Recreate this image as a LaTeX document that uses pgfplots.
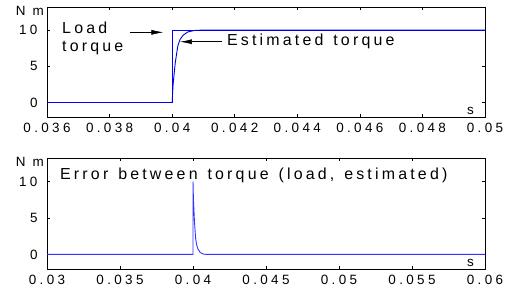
\documentclass[border=0pt]{standalone}
\usepackage{fontspec}
\setmainfont{Liberation Sans}[LetterSpace=20,WordSpace=1.3]
\newfontfamily\tickfont{Liberation Sans}[LetterSpace=25]
\usepackage{pgfplots}
\pgfplotsset{compat=1.18}
\usetikzlibrary{arrows.meta}
\pgfplotsset{
  mystyle/.style={
    scale only axis, width=438bp, height=110bp,
    anchor=south west, clip=false,
    ymin=-2, ymax=13.2,
    ytick={0,5,10},
    tick align=inside,
    major tick length=3bp,
    axis line style={line width=0.9pt},
    every tick/.style={black, line width=0.5pt},
    scaled ticks=false,
    /pgf/number format/assume math mode=true,
    tick label style={font=\tickfont\fontsize{13.5}{15}\selectfont},
    xticklabel style={yshift=-3bp},
    yticklabel style={xshift=-6bp},
  }
}
\begin{document}
\begin{tikzpicture}[x=1bp,y=1bp]
\path[use as bounding box] (0,0) rectangle (505,295);
\begin{axis}[mystyle, at={(47bp,178bp)},
  xmin=0.036, xmax=0.05,
  xtick={0.036,0.038,0.040,0.042,0.044,0.046,0.048,0.050},
  xticklabels={0.036,0.038,0.04,0.042,0.044,0.046,0.048,0.05}]
\addplot[blue, line width=0.9pt] coordinates {(0.036,0) (0.04,0) (0.04,10) (0.05,10)};
\addplot[blue!85!black, line width=0.9pt] coordinates {(0.04,0) (0.04003,2.5) (0.0401,5.5) (0.04018,7.8) (0.04025,8.7) (0.04035,9.3) (0.0405,9.75) (0.0407,9.95) (0.0409,10) (0.05,10)};
\draw[-{Latex[length=12bp,width=5bp]}, line width=0.6pt] (axis cs:0.03865,9.7) -- (axis cs:0.03972,9.7);
\draw[-{Latex[length=12bp,width=5bp]}, line width=0.6pt] (axis cs:0.04159,8.4) -- (axis cs:0.04025,8.4);
\node[anchor=base west, font=\fontsize{16}{18}\selectfont, inner sep=0pt] at (axis cs:0.03648,9.6) {Load};
\node[anchor=base west, font=\fontsize{16}{18}\selectfont, inner sep=0pt] at (axis cs:0.03648,7.1) {torque};
\node[anchor=base west, font=\fontsize{16}{18}\selectfont, inner sep=0pt] at (axis cs:0.04175,7.9) {Estimated torque};
\node[anchor=north east, font=\tickfont\fontsize{13.5}{15}\selectfont, inner sep=0pt] at ([xshift=-3bp,yshift=1bp]rel axis cs:0,1) {N m};
\node[anchor=south east, font=\tickfont\fontsize{13.5}{15}\selectfont, inner sep=0pt] at ([xshift=-11bp,yshift=2bp]rel axis cs:1,0) {s};
\end{axis}
\begin{axis}[mystyle, at={(47bp,26bp)}, height=111bp,
  xmin=0.03, xmax=0.06,
  xtick={0.030,0.035,0.040,0.045,0.050,0.055,0.060},
  xticklabels={0.03,0.035,0.04,0.045,0.05,0.055,0.06}]
\addplot[blue!80!white, line width=0.9pt] coordinates {(0.03,0) (0.04,0) (0.04,10) (0.04003,7.5) (0.0401,4.5) (0.04018,2.2) (0.04025,1.3) (0.04035,0.7) (0.0405,0.25) (0.0407,0.05) (0.0409,0) (0.06,0)};
\node[anchor=base west, font=\fontsize{16}{18}\selectfont, inner sep=0pt] at (axis cs:0.03089,10.2) {Error between torque (load, estimated)};
\node[anchor=north east, font=\tickfont\fontsize{13.5}{15}\selectfont, inner sep=0pt] at ([xshift=-3bp,yshift=1bp]rel axis cs:0,1) {N m};
\node[anchor=south east, font=\tickfont\fontsize{13.5}{15}\selectfont, inner sep=0pt] at ([xshift=-11bp,yshift=2bp]rel axis cs:1,0) {s};
\end{axis}
\end{tikzpicture}
\end{document}
